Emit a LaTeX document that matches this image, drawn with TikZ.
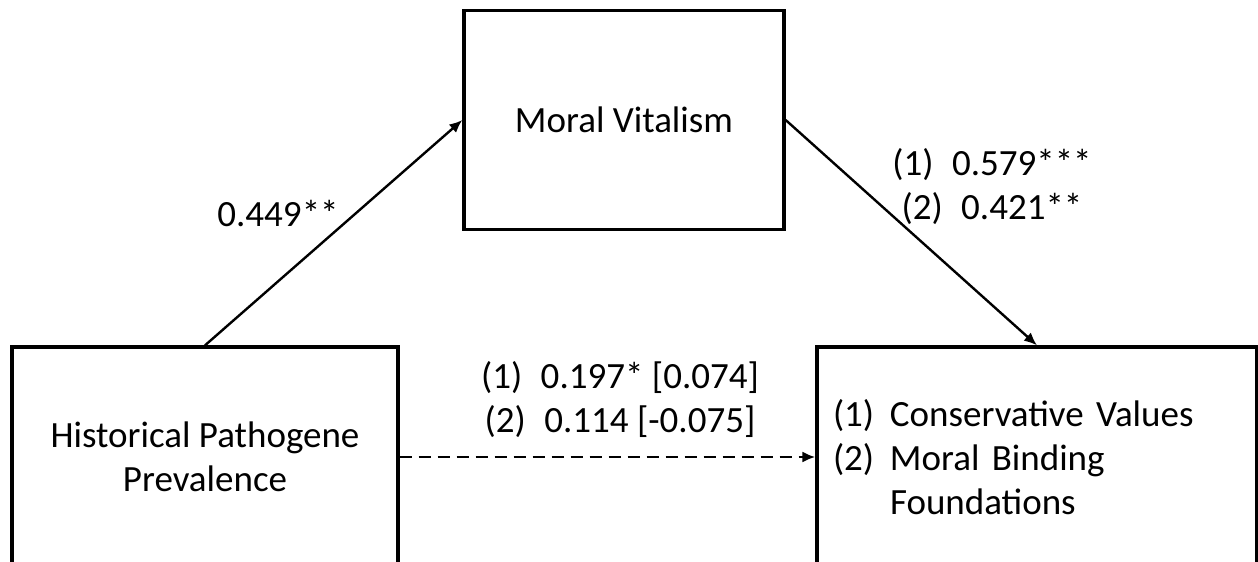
\documentclass[tikz,border=0pt]{standalone}
\usepackage{fontspec}
\setmainfont{Carlito}
\usetikzlibrary{arrows.meta, positioning}

\begin{document}
\begin{tikzpicture}[x=0.5pt, y=-0.5pt,
  box/.style={draw, line width=1.65pt, inner sep=0pt, align=center, font=\fontsize{18.5}{22}\selectfont},
  lbl/.style={align=center, font=\fontsize{18.5}{22}\selectfont},
  arr/.style={-{Latex[length=6.5pt, width=5.5pt]}, line width=1.2pt}]
\useasboundingbox (0,0) rectangle (1258,562);

\node [box, minimum width=193pt, minimum height=110pt] (hpp) at (205,457) {Historical Pathogene\\Prevalence};
\node [box, minimum width=160pt, minimum height=109.5pt] (mv) at (624,120) {Moral Vitalism};
\node [box, minimum width=220pt, minimum height=110pt, text width=204pt, inner xsep=8pt, align=left] (cv) at (1037,457)
  {\makebox[28.5pt][l]{(1)}Conservative Values\\ \makebox[28.5pt][l]{(2)}Moral Binding\\ \hspace*{28.5pt}Foundations};

\draw [arr] (hpp.north) -- (mv.west);
\draw [arr] (mv.east) -- (cv.north);
\draw [arr, dash pattern=on 6pt off 3.5pt] (hpp.east) -- (cv.west);

\node [lbl] (pathA) at (278,214) {0.449**};
\node [lbl] (pathB) at (992,187) {(1)\enspace 0.579***\\(2)\enspace 0.421**};
\node [lbl] (pathC) at (620,400) {(1)\enspace 0.197* [0.074]\\(2)\enspace 0.114 [-0.075]};
\end{tikzpicture}
\end{document}
